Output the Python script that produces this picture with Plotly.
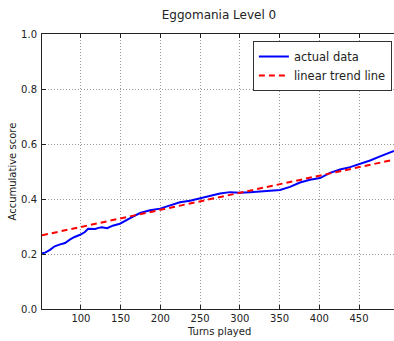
import plotly.graph_objects as go

# Data
turns = [51, 55, 61, 67, 73, 80, 86, 92, 99, 105, 109, 114, 118, 122, 126.5, 133,
         140, 149, 158, 166, 174.5, 187, 199.5, 212, 224.6, 237.2, 249.8, 262.4,
         275, 287.6, 300.2, 312.8, 325.4, 338, 350.5, 363.1, 375.7, 388.3, 400.9,
         413.5, 426.1, 438.7, 451.3, 463.9, 476.5, 489.1, 494]
score = [0.203, 0.205, 0.215, 0.228, 0.234, 0.240, 0.252, 0.262, 0.270, 0.280,
         0.292, 0.292, 0.291, 0.295, 0.297, 0.294, 0.303, 0.310, 0.325, 0.337,
         0.349, 0.359, 0.365, 0.376, 0.388, 0.394, 0.402, 0.410, 0.420, 0.425,
         0.423, 0.425, 0.428, 0.429, 0.433, 0.444, 0.460, 0.470, 0.476, 0.495,
         0.507, 0.516, 0.527, 0.540, 0.555, 0.569, 0.575]
trend_x = [51, 494]
trend_y = [0.268, 0.543]

x_ticks = [100, 150, 200, 250, 300, 350, 400, 450]
y_ticks = [0.0, 0.2, 0.4, 0.6, 0.8, 1.0]

FONT = "DejaVu Sans"

fig = go.Figure()
fig.add_trace(go.Scatter(x=turns, y=score, mode="lines", name="actual data",
                         line=dict(color="#0000ff", width=2)))
fig.add_trace(go.Scatter(x=trend_x, y=trend_y, mode="lines", name="linear trend line",
                         line=dict(color="#ff0000", width=2, dash="6px,4px")))

axis_common = dict(
    showline=True, linecolor="#222", linewidth=1,
    ticks="inside", ticklen=4, tickcolor="#222", tickwidth=1,
    showgrid=True, gridcolor="#999", gridwidth=1, griddash="1px,2px",
    zeroline=False,
    tickfont=dict(family=FONT, size=10, color="#222"),
)

fig.update_xaxes(range=[51, 494], tickvals=x_ticks, ticktext=[str(v) for v in x_ticks],
                 mirror="ticks", **axis_common)
fig.update_yaxes(range=[0, 1.0], tickvals=y_ticks, ticktext=[f"{v:.1f}" for v in y_ticks],
                 ticklabelstandoff=2, **axis_common)

fig.update_layout(
    width=394, height=341,
    margin=dict(l=42, r=0, t=34, b=32),
    paper_bgcolor="white", plot_bgcolor="white",
    font=dict(family=FONT, color="#222"),
    title=dict(text="Eggomania Level 0", x=219/394, xref="container", xanchor="center",
               y=1 - 15/341, yref="container", yanchor="middle",
               font=dict(family=FONT, size=12, color="#222")),
    legend=dict(x=0.994, xanchor="right", y=0.9745, yanchor="top",
                bgcolor="white", bordercolor="#333", borderwidth=1,
                itemwidth=30, tracegroupgap=0,
                font=dict(family=FONT, size=11.5, color="#222")),
    annotations=[
        dict(text="Turns played", xref="paper", yref="paper", x=(219-42)/352, y=-(331-309)/275,
             xanchor="center", yanchor="middle", showarrow=False,
             font=dict(family=FONT, size=10, color="#222")),
        dict(text="Accumulative score", xref="paper", yref="paper", x=-(42-12)/352, y=0.5,
             xanchor="center", yanchor="middle", showarrow=False, textangle=-90,
             font=dict(family=FONT, size=10, color="#222")),
    ],
)

fig.write_html("out.html")
